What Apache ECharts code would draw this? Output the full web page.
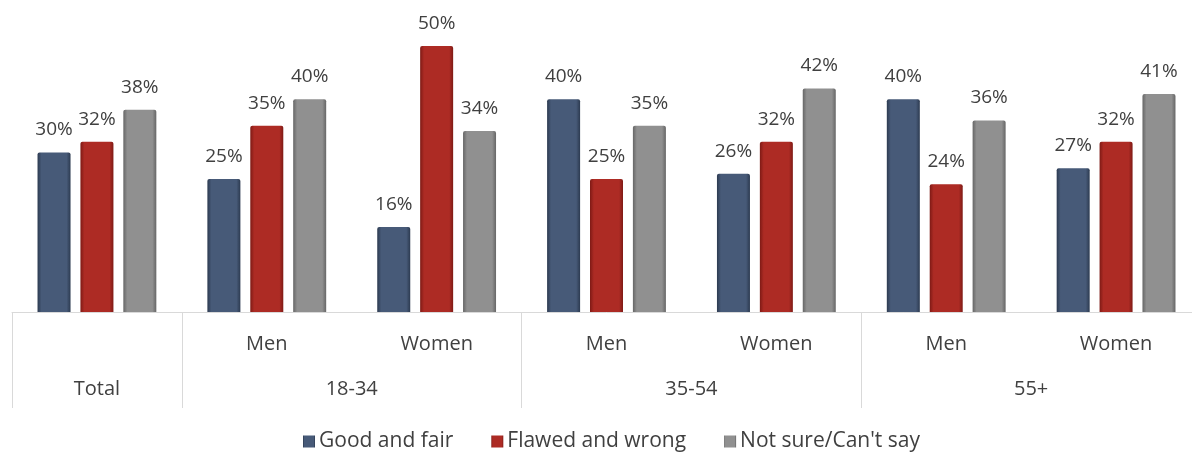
<!DOCTYPE html>
<html>
<head>
<meta charset="utf-8">
<script src="https://cdn.jsdelivr.net/npm/echarts@6/dist/echarts.min.js"></script>
<style>
  html, body { margin: 0; padding: 0; background: #ffffff; overflow: hidden; }
  /* the last category runs a few pixels past the right edge of the page */
  #chart { width: 1210px; height: 455px; }
</style>
</head>
<body>
<div id="chart"></div>
<script>
// Subgroup labels (inner axis row)
const subgroups = ['', 'Men', 'Women', 'Men', 'Women', 'Men', 'Women'];
// Group labels placed on half-category slots (outer axis row)
const groupSlots = ['', 'Total', '', '', '18-34', '', '', '', '35-54', '', '', '', '55+', '', ''];
// Slot indices where group separators are drawn
const separatorSlots = [0, 2, 6, 10, 14];

const seriesNames = ['Good and fair', 'Flawed and wrong', "Not sure/Can't say"];
const goodAndFair = [30, 25, 16, 40, 26, 40, 27];
const flawedAndWrong = [32, 35, 50, 25, 32, 24, 32];
const notSure = [38, 40, 34, 35, 42, 36, 41];

const FONT = '"Open Sans", Lato, sans-serif';
const TEXT = '#404040';

function shade(edge, mid) {
  return new echarts.graphic.LinearGradient(0, 0, 1, 0, [
    { offset: 0, color: edge },
    { offset: 0.12, color: mid },
    { offset: 0.5, color: mid },
    { offset: 0.88, color: mid },
    { offset: 1, color: edge }
  ]);
}

const palette = [
  shade('#2c3a50', '#475a78'),
  shade('#7e1a15', '#ad2b24'),
  shade('#666666', '#909090')
];

function barSeries(name, values, color) {
  return {
    name: name,
    type: 'bar',
    xAxisIndex: 0,
    data: values,
    barWidth: 33,
    barGap: '30%',
    itemStyle: { color: color, borderRadius: [2, 2, 0, 0] },
    label: {
      show: true,
      position: 'top',
      distance: 13,
      formatter: '{c}%',
      fontFamily: FONT,
      fontSize: 19,
      color: TEXT
    }
  };
}

const chart = echarts.init(document.getElementById('chart'), null, { renderer: 'canvas' });
chart.setOption({
  animation: false,
  backgroundColor: '#ffffff',
  grid: { left: 12, right: 9, top: 46, bottom: 143, containLabel: false },
  legend: {
    top: 426,
    left: 298,
    itemWidth: 12,
    itemHeight: 12,
    itemGap: 38,
    icon: 'rect',
    textStyle: { fontFamily: FONT, fontSize: 21, color: TEXT, padding: [0, 0, 0, -1] },
    data: seriesNames
  },
  xAxis: [
    {
      type: 'category',
      data: subgroups,
      axisLine: { lineStyle: { color: '#d9d9d9', width: 1 } },
      axisTick: { show: false },
      axisLabel: { interval: 0, margin: 22, fontFamily: FONT, fontSize: 20, color: TEXT }
    },
    {
      type: 'category',
      position: 'bottom',
      boundaryGap: false,
      data: groupSlots,
      axisLine: { show: false },
      axisTick: {
        show: true,
        length: 96,
        interval: (i) => separatorSlots.indexOf(i) >= 0,
        lineStyle: { color: '#d9d9d9', width: 1 }
      },
      axisLabel: { interval: 0, margin: 67, fontFamily: FONT, fontSize: 20, color: TEXT }
    }
  ],
  yAxis: {
    type: 'value',
    min: 0,
    max: 50,
    show: false,
    splitLine: { show: false }
  },
  series: [
    barSeries(seriesNames[0], goodAndFair, palette[0]),
    barSeries(seriesNames[1], flawedAndWrong, palette[1]),
    barSeries(seriesNames[2], notSure, palette[2])
  ]
});
</script>
</body>
</html>
